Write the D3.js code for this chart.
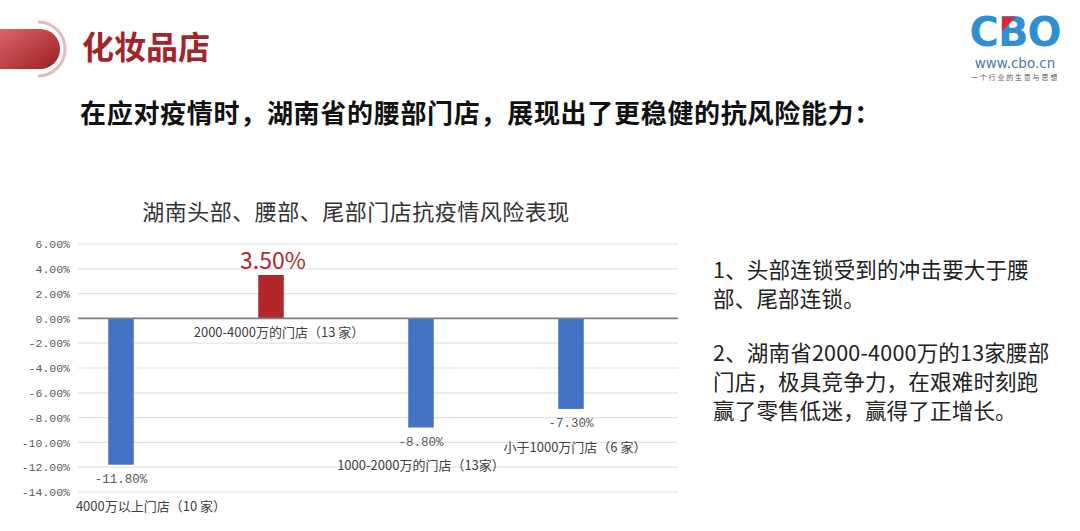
<!DOCTYPE html>
<html><head><meta charset="utf-8">
<script src="https://cdn.jsdelivr.net/npm/d3@7"></script>
<style>
body{margin:0;background:#fff;}
svg{display:block;font-family:"Noto Sans CJK SC","Noto Sans",sans-serif;}
</style></head>
<body><svg id="c" width="1080" height="531"></svg>
<script>
// ---- data ----
const categories = ["4000万以上门店（10 家）","2000-4000万的门店（13 家）","1000-2000万的门店（13家）","小于1000万门店（6 家）"];
const values = [-11.8, 3.5, -8.8, -7.3];
const valueLabels = ["-11.80%","3.50%","-8.80%","-7.30%"];
const yTicks = [6,4,2,0,-2,-4,-6,-8,-10,-12,-14];
const chartTitle = "湖南头部、腰部、尾部门店抗疫情风险表现";
const pageTitle = "化妆品店";
const subTitle = "在应对疫情时，湖南省的腰部门店，展现出了更稳健的抗风险能力：";
const notes = [["1、头部连锁受到的冲击要大于腰","部、尾部连锁。"],["2、湖南省2000-4000万的13家腰部","门店，极具竞争力，在艰难时刻跑","赢了零售低迷，赢得了正增长。"]];
// layout offsets of category labels (dx from bar centre, dy from zero line)
const catLabelOffsets = [[30,189],[8,15],[0,148],[4,130]];

const svg = d3.select("#c");
const defs = svg.append("defs");
const g1 = defs.append("linearGradient").attr("id","pill").attr("x1","0").attr("y1","0").attr("x2","1").attr("y2","1");
g1.append("stop").attr("offset","0").attr("stop-color","#d9666a");
g1.append("stop").attr("offset","1").attr("stop-color","#9c1d22");

// header pill
svg.append("path").attr("d","M0,29 H40 A20,20 0 0 1 40,69 H0 Z").attr("fill","url(#pill)");
svg.append("path").attr("d","M38,22 A27,27 0 0 1 38,76").attr("fill","none").attr("stroke","#e6b9bb").attr("stroke-width",3);
svg.append("text").attr("x",82).attr("y",59).attr("font-size",32).attr("font-weight",700)
  .attr("fill","#a0262b").attr("font-family","'Noto Sans CJK SC'").text(pageTitle);

// logo
svg.append("text").attr("x",1015).attr("y",46).attr("text-anchor","middle").attr("font-size",40).attr("font-weight",900)
  .attr("fill","#2e8fd3").attr("font-family","'DejaVu Sans'").attr("letter-spacing",-1).text("CBO");
svg.append("path").attr("d","M1002,17 L1016,17 L1002,31 Z").attr("fill","#e2262b");
svg.append("text").attr("x",1015).attr("y",68).attr("text-anchor","middle").attr("font-size",13.5)
  .attr("fill","#4a79a8").attr("font-family","'DejaVu Sans'").text("www.cbo.cn");
svg.append("text").attr("x",1015).attr("y",80).attr("text-anchor","middle").attr("font-size",7)
  .attr("fill","#555").attr("letter-spacing",1.8).text("一个行业的生意与思想");

// subtitle
svg.append("text").attr("x",80).attr("y",123).attr("font-size",26).attr("font-weight",700)
  .attr("fill","#111").attr("letter-spacing",0.7).text(subTitle);

// chart
const plotLeft = 78, plotRight = 678;
const x = d3.scaleBand().domain(categories).range([46,646]).paddingInner(0.83).paddingOuter(0.415);
const y = d3.scaleLinear().domain([-14,6]).range([492,244]);

svg.append("text").attr("x",356).attr("y",220).attr("text-anchor","middle").attr("font-size",22)
  .attr("fill","#333").attr("letter-spacing",0.5).text(chartTitle);

// grid
svg.append("g").selectAll("line").data(yTicks.filter(d=>d!==0)).join("line")
  .attr("x1",plotLeft).attr("x2",plotRight).attr("y1",d=>y(d)).attr("y2",d=>y(d))
  .attr("stroke","#e3e3e3").attr("stroke-width",1.2);

// y axis labels
const yAxis = d3.axisLeft(y).tickValues(yTicks).tickSize(0).tickPadding(8).tickFormat(d=>d.toFixed(2)+"%");
const ya = svg.append("g").attr("transform",`translate(${plotLeft},0)`).call(yAxis);
ya.select(".domain").remove();
ya.selectAll("text").attr("font-family","'Liberation Mono','DejaVu Sans Mono',monospace").attr("font-size",11.5).attr("fill","#595959");

// bars
svg.append("g").selectAll("rect").data(values).join("rect")
  .attr("x",(d,i)=>x(categories[i])).attr("width",x.bandwidth())
  .attr("y",d=>y(Math.max(0,d))).attr("height",d=>Math.abs(y(d)-y(0)))
  .attr("fill",d=>d>=0?"#b1272a":"#4472c4");

// zero line
svg.append("line").attr("x1",plotLeft).attr("x2",plotRight).attr("y1",y(0)).attr("y2",y(0))
  .attr("stroke","#7f7f7f").attr("stroke-width",1.6);

// value labels
svg.append("g").selectAll("text").data(values).join("text")
  .attr("x",(d,i)=>x(categories[i])+x.bandwidth()/2+(d>=0?2:0))
  .attr("y",d=>d>=0?y(d)-6:y(d)+18)
  .attr("text-anchor","middle")
  .attr("font-family",d=>d>=0?"'Noto Sans CJK SC'":"'Liberation Mono',monospace")
  .attr("font-size",d=>d>=0?23:12.5)
  .attr("fill",d=>d>=0?"#b1272a":"#595959")
  .text((d,i)=>valueLabels[i]);

// category labels
svg.append("g").selectAll("text").data(categories).join("text")
  .attr("x",(d,i)=>x(d)+x.bandwidth()/2+catLabelOffsets[i][0])
  .attr("y",(d,i)=>y(0)+catLabelOffsets[i][1]+4)
  .attr("text-anchor","middle").attr("font-size",13).attr("fill","#404040")
  .text(d=>d);

// notes
const lineStarts = [[278,307],[361,390,419]];
notes.forEach((blk,bi)=>blk.forEach((ln,li)=>{
  svg.append("text").attr("x",713).attr("y",lineStarts[bi][li]).attr("font-size",21.5)
    .attr("fill","#222").attr("letter-spacing",0.2).text(ln);
}));
</script></body></html>
